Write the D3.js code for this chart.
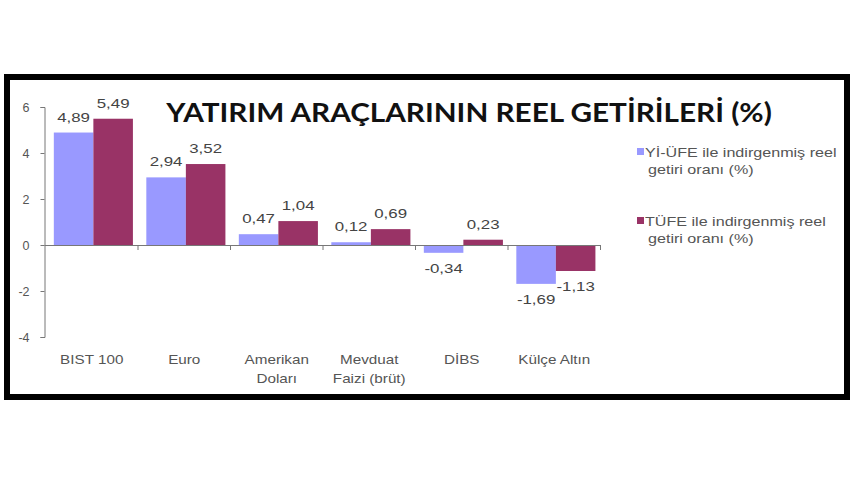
<!DOCTYPE html>
<html><head><meta charset="utf-8">
<script src="https://cdn.jsdelivr.net/npm/d3@7"></script>
<style>body{margin:0;background:#fff}svg{display:block}</style>
</head><body>
<svg id="c" width="860" height="480"></svg>
<script>
const categories = [["BIST 100"],["Euro"],["Amerikan","Doları"],["Mevduat","Faizi (brüt)"],["DİBS"],["Külçe Altın"]];
const seriesNames = ["Yİ-ÜFE ile indirgenmiş reel|getiri oranı (%)","TÜFE ile indirgenmiş reel|getiri oranı (%)"];
const yiufe = [4.89, 2.94, 0.47, 0.12, -0.34, -1.69];
const tufe  = [5.49, 3.52, 1.04, 0.69, 0.23, -1.13];
const yTicks = [6, 4, 2, 0, -2, -4];
const colors = ["#9999ff", "#993366"];
const title = "YATIRIM ARAÇLARININ REEL GETİRİLERİ (%)";

const svg = d3.select("#c");
const fmt = v => v.toFixed(2).replace(".", ",");
const SANS = "Liberation Sans, Arial, sans-serif";

function stext(g, x, y, sx, t) {
  return g.append("text").attr("transform", `translate(${x},${y}) scale(${sx},1)`).text(t);
}

// frame
svg.append("rect").attr("x",7).attr("y",77).attr("width",840).attr("height",320)
  .attr("fill","#fff").attr("stroke","#000").attr("stroke-width",6);

const y = d3.scaleLinear().domain([-4, 6]).range([337, 107]);
const idx = d3.range(categories.length);
const x = d3.scaleBand().domain(idx).range([45.5, 600.5]).padding(0);
const step = x.step();
const xs = d3.scaleBand().domain([0,1]).range([step*0.09, step*0.945]).padding(0);

// bars
const data = [yiufe, tufe];
data.forEach((vals, s) => {
  svg.append("g").selectAll("rect").data(vals).join("rect")
    .attr("x", (d,i) => x(i) + xs(s))
    .attr("width", xs.bandwidth())
    .attr("y", d => y(Math.max(0, d)))
    .attr("height", d => Math.abs(y(d) - y(0)))
    .attr("fill", colors[s]);
});

// x axis line + ticks
const ax = svg.append("g").attr("stroke","#777").attr("stroke-width",1);
ax.append("line").attr("x1",44.5).attr("x2",600.5).attr("y1",y(0)+0.5).attr("y2",y(0)+0.5);
ax.selectAll("line.t").data(d3.range(1, categories.length+1)).join("line").attr("class","t")
  .attr("x1", i => 45.5 + i*step).attr("x2", i => 45.5 + i*step)
  .attr("y1", y(0)).attr("y2", y(0)+5);

// y axis
const yAxis = d3.axisLeft(y).tickValues(yTicks).tickSize(4).tickPadding(11).tickFormat(d => d);
const gy = svg.append("g").attr("transform","translate(44.5,0)").call(yAxis);
gy.select(".domain").attr("stroke","#777");
gy.selectAll(".tick line").attr("stroke","#777");
gy.selectAll(".tick text").attr("font-family",SANS).attr("font-size",12.5).attr("fill","#555");

// data labels
const dl = svg.append("g").attr("font-family",SANS).attr("font-size",12.5).attr("fill","#444").attr("text-anchor","middle");
data.forEach((vals, s) => {
  vals.forEach((d, i) => {
    stext(dl, x(i) + xs(s) + xs.bandwidth()/2, d >= 0 ? y(d) - 11 : y(d) + 20, 1.35, fmt(d));
  });
});

// category labels
const cl = svg.append("g").attr("font-family",SANS).attr("font-size",12.5).attr("fill","#555").attr("text-anchor","middle");
categories.forEach((lines, i) => {
  lines.forEach((t, k) => {
    stext(cl, x(i) + step/2, 364 + k*19, 1.22, t);
  });
});

// title
const tg = svg.append("g").attr("font-family","Lato, 'Open Sans', sans-serif").attr("font-weight","bold").attr("font-size",27.5).attr("fill","#111").attr("text-anchor","middle");
stext(tg, 469, 122, 1.08, title);

// legend
const lg = svg.append("g").attr("font-family",SANS).attr("font-size",12.5).attr("fill","#555");
seriesNames.forEach((n, s) => {
  const y0 = 157 + s*69;
  lg.append("rect").attr("x",637).attr("y",y0-9).attr("width",7).attr("height",7).attr("fill",colors[s]);
  n.split("|").forEach((t, k) => {
    stext(lg, k===0 ? 645 : 648, y0 + k*17, 1.29, t);
  });
});
</script>
</body></html>
